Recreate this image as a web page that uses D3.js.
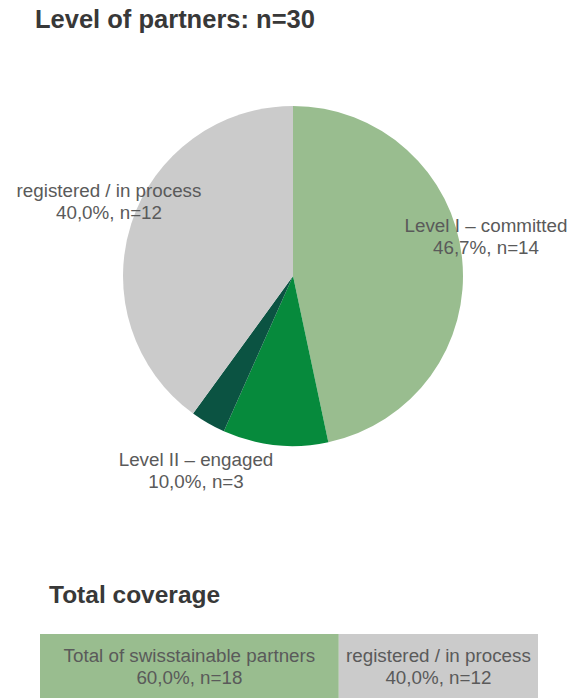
<!DOCTYPE html>
<html>
<head>
<meta charset="utf-8">
<script src="https://cdn.jsdelivr.net/npm/d3@7"></script>
<style>
  body { margin: 0; background: #fff; }
  text { font-family: "Liberation Sans", Arial, sans-serif; }
</style>
</head>
<body>
<svg id="chart" width="571" height="698"></svg>
<script>
// pie data
var levels = ["Level I – committed", "Level II – engaged", "Level III", "registered / in process"];
var counts = [14, 3, 1, 12];
var shares = ["46,7%", "10,0%", "3,3%", "40,0%"];
var colors = ["#99bd8f", "#068a3c", "#0b5342", "#cbcbcb"];

// bar data
var coverageCats = ["Total of swisstainable partners", "registered / in process"];
var coverageCounts = [18, 12];
var coverageShares = ["60,0%", "40,0%"];
var coverageColors = ["#99bd8f", "#cbcbcb"];

var svg = d3.select("#chart");

svg.append("text")
    .attr("x", 35).attr("y", 28)
    .attr("font-size", 25.5).attr("font-weight", "bold")
    .attr("fill", "#383838")
    .text("Level of partners: n=" + d3.sum(counts));

var cx = 293, cy = 276, r = 170;
var pie = d3.pie().sort(null).value(function (d) { return d; });
var arc = d3.arc().innerRadius(0).outerRadius(r);
var arcs = pie(counts);

var g = svg.append("g").attr("transform", "translate(" + cx + "," + cy + ")");
g.selectAll("path")
    .data(arcs)
    .enter().append("path")
    .attr("d", arc)
    .attr("fill", function (d, i) { return colors[i]; });

// label offsets from the pie centre (the small dark slice has no label)
var labelPos = [[193, -44], [-97, 190], null, [-184, -79]];
arcs.forEach(function (d, i) {
    if (!labelPos[i]) return;
    var t = g.append("text")
        .attr("text-anchor", "middle")
        .attr("font-size", 18.8)
        .attr("fill", "#5a5a5a")
        .attr("transform", "translate(" + labelPos[i][0] + "," + labelPos[i][1] + ")");
    t.append("tspan").attr("x", 0).attr("y", 0).text(levels[i]);
    t.append("tspan").attr("x", 0).attr("y", 22).text(shares[i] + ", n=" + counts[i]);
});

// total coverage bar
svg.append("text")
    .attr("x", 49).attr("y", 603)
    .attr("font-size", 24.5).attr("font-weight", "bold")
    .attr("fill", "#383838")
    .text("Total coverage");

var x = d3.scaleLinear()
    .domain([0, d3.sum(coverageCounts)])
    .range([40, 538]);

var stacked = [];
var acc = 0;
coverageCounts.forEach(function (c, i) {
    stacked.push({ x0: acc, x1: acc + c, i: i });
    acc += c;
});

var bar = svg.append("g");
bar.selectAll("rect")
    .data(stacked)
    .enter().append("rect")
    .attr("x", function (d) { return x(d.x0); })
    .attr("width", function (d) { return x(d.x1) - x(d.x0); })
    .attr("y", 634)
    .attr("height", 80)
    .attr("fill", function (d) { return coverageColors[d.i]; });

stacked.forEach(function (d) {
    var mx = (x(d.x0) + x(d.x1)) / 2;
    var t = bar.append("text")
        .attr("text-anchor", "middle")
        .attr("font-size", 18.8)
        .attr("fill", "#5a5a5a");
    t.append("tspan").attr("x", mx).attr("y", 662).text(coverageCats[d.i]);
    t.append("tspan").attr("x", mx).attr("y", 684).text(coverageShares[d.i] + ", n=" + coverageCounts[d.i]);
});
</script>
</body>
</html>
